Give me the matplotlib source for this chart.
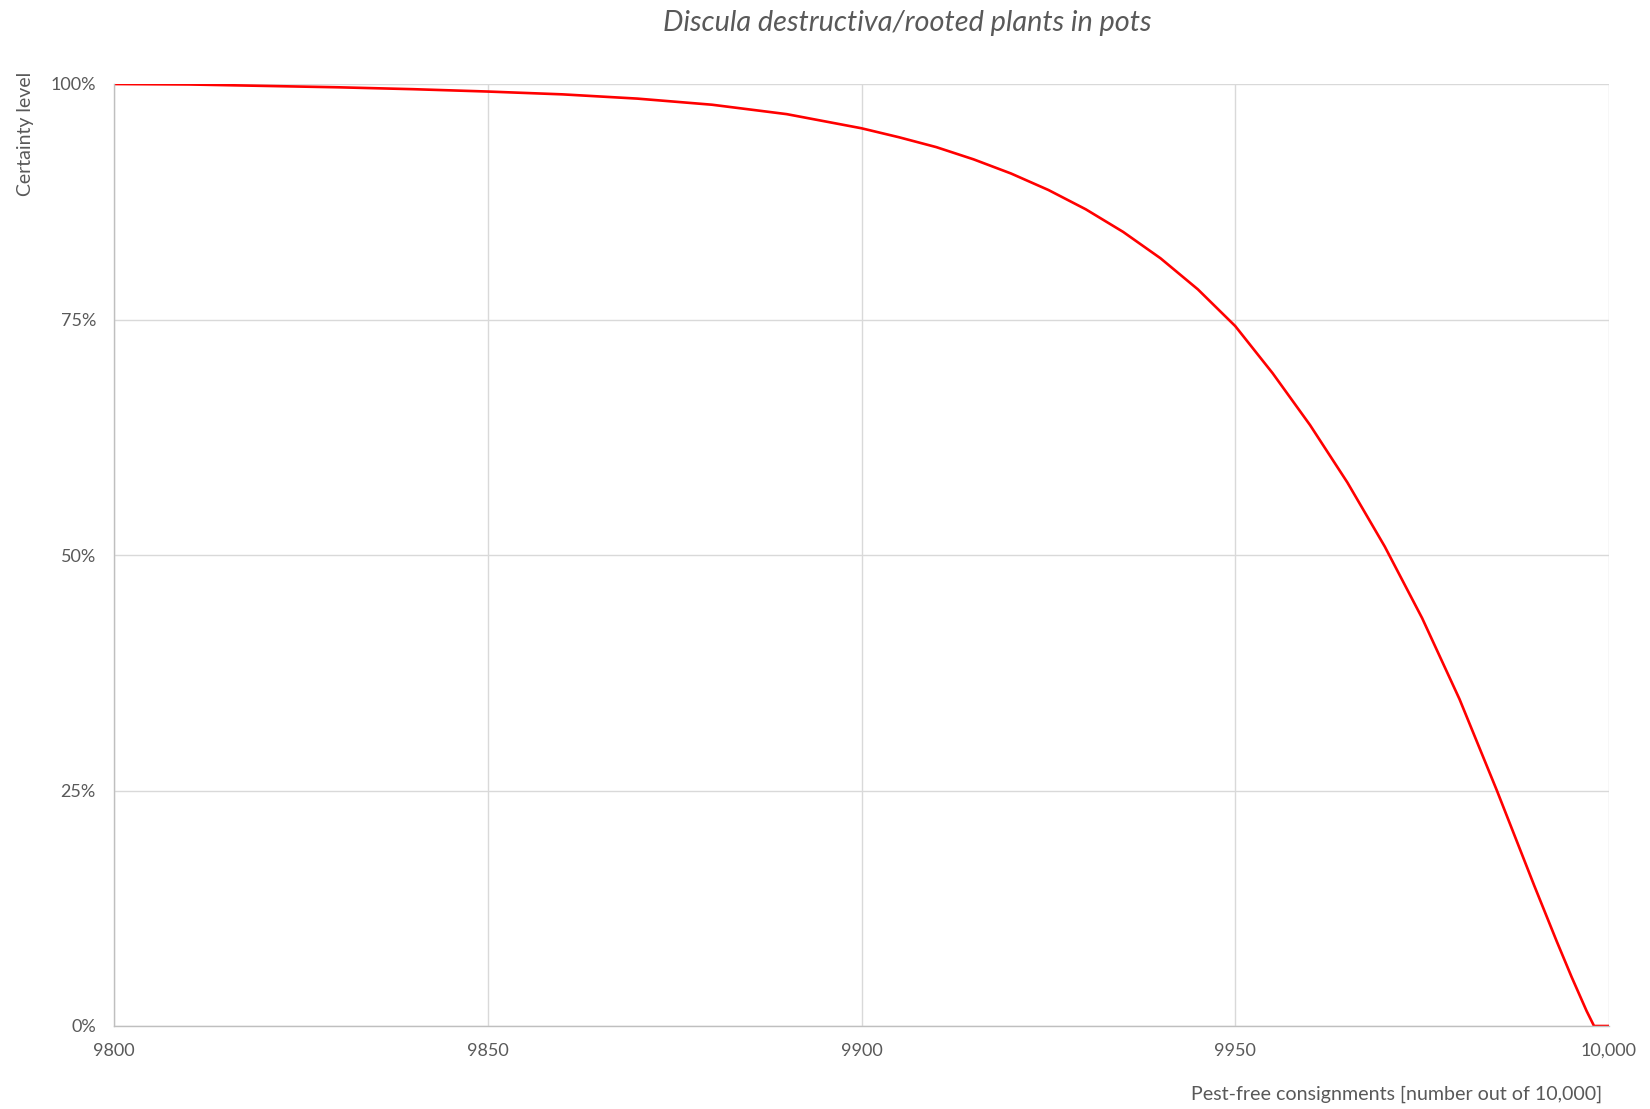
import matplotlib
matplotlib.use("Agg")
import matplotlib.pyplot as plt
from matplotlib.ticker import FuncFormatter

# values
consignments = [9800, 9810, 9820, 9830, 9840, 9850, 9860, 9870, 9880, 9890,
                 9900, 9905, 9910, 9915, 9920, 9925, 9930, 9935, 9940, 9945,
                 9950, 9955, 9960, 9965, 9970, 9975, 9980, 9985, 9990, 9993,
                 9995, 9996, 9997, 9998, 10000]
certainty = [100.0, 99.95, 99.8, 99.65, 99.45, 99.2, 98.9, 98.45, 97.8, 96.8,
             95.3, 94.35, 93.3, 92.0, 90.5, 88.75, 86.7, 84.3, 81.5, 78.2,
             74.3, 69.3, 63.8, 57.7, 50.9, 43.3, 34.7, 25.0, 14.9, 9.0,
             5.2, 3.4, 1.6, 0.0, 0.0]

x_ticks = [9800, 9850, 9900, 9950, 10000]
y_ticks = [0, 25, 50, 75, 100]

TEXT = "#595959"
FONT = "Lato"

plt.rcParams["font.family"] = [FONT, "DejaVu Sans"]

fig = plt.figure(figsize=(16.5, 11.09), dpi=100)
ax = fig.add_axes([114 / 1650, 83 / 1109, 1495 / 1650, 942 / 1109])

ax.plot(consignments, certainty, color="#ff0000", lw=1.9, solid_joinstyle="round")

ax.set_xlim(9800, 10000)
ax.set_ylim(0, 100)
ax.set_xticks(x_ticks)
ax.set_yticks(y_ticks)
ax.xaxis.set_major_formatter(FuncFormatter(lambda v, _: f"{int(v):,}" if v >= 10000 else f"{int(v)}"))
ax.yaxis.set_major_formatter(FuncFormatter(lambda v, _: f"{int(v)}%"))

ax.grid(True, color="#d9d9d9", lw=1.0)
ax.set_axisbelow(True)
for side in ["top", "right"]:
    ax.spines[side].set_visible(False)
for side in ["left", "bottom"]:
    ax.spines[side].set_color("#bfbfbf")
    ax.spines[side].set_linewidth(1.0)

ax.tick_params(axis="both", length=0, labelsize=13, labelcolor=TEXT)
ax.tick_params(axis="y", pad=13)
ax.tick_params(axis="x", pad=12)

fig.text(907 / 1650, 1 - 23 / 1109, "Discula destructiva/rooted plants in pots",
         ha="center", va="center", fontsize=20.8, style="italic", color=TEXT)
fig.text(25 / 1650, 1 - 72 / 1109, "Certainty level", rotation=90,
         ha="center", va="top", fontsize=14, color=TEXT)
fig.text(1602 / 1650, 1 - 1094 / 1109, "Pest-free consignments [number out of 10,000]",
         ha="right", va="center", fontsize=14.1, color=TEXT)

fig.savefig("out.png", dpi=100, facecolor="white")
